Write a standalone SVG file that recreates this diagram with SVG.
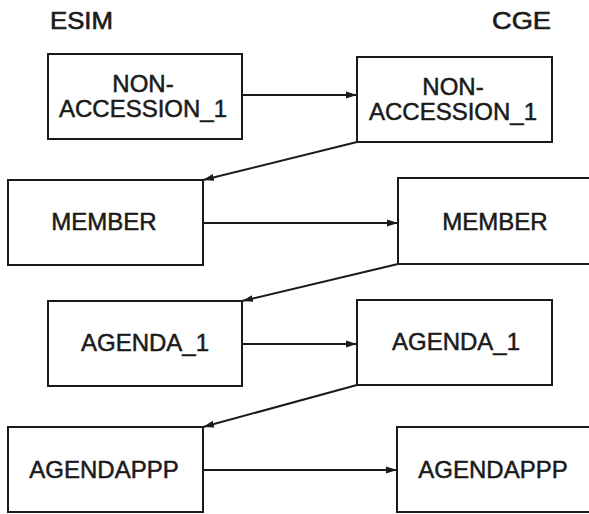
<svg xmlns="http://www.w3.org/2000/svg" width="589" height="514" viewBox="0 0 589 514">
<defs>
<marker id="ah" markerWidth="11" markerHeight="8" refX="11" refY="4" orient="auto" markerUnits="userSpaceOnUse">
<path d="M0,0.6 L11,4 L0,7.4 Z" fill="#1a1a1a"/>
</marker>
<style>
.box{fill:#fff;stroke:#1a1a1a;stroke-width:2}
.t{font-family:"Liberation Sans",Arial,sans-serif;font-size:24px;fill:#1a1a1a;stroke:#1a1a1a;stroke-width:0.5;text-anchor:middle}
.h{font-family:"Liberation Sans",Arial,sans-serif;font-size:23px;fill:#1a1a1a;stroke:#1a1a1a;stroke-width:0.6}
.c{fill:none;stroke:#1a1a1a;stroke-width:2;marker-end:url(#ah)}
</style>
</defs>
<rect width="589" height="514" fill="#fff"/>
<text class="h" x="50" y="29" textLength="63" lengthAdjust="spacingAndGlyphs">ESIM</text>
<text class="h" x="492" y="29" textLength="59" lengthAdjust="spacingAndGlyphs">CGE</text>
<g id="connectors">
<line class="c" x1="242" y1="95" x2="357" y2="95"/>
<line class="c" x1="357" y1="142" x2="203" y2="180"/>
<line class="c" x1="203" y1="223" x2="398" y2="223"/>
<line class="c" x1="398" y1="264" x2="242" y2="301"/>
<line class="c" x1="242" y1="344" x2="357" y2="344"/>
<line class="c" x1="357" y1="385" x2="203" y2="427"/>
<line class="c" x1="203" y1="470" x2="397" y2="470"/>
</g>
<g id="esim-nonaccession">
<rect class="box" x="48" y="54" width="194" height="85"/>
<text class="t" x="143" y="92">NON-</text>
<text class="t" x="143" y="117">ACCESSION_1</text>
</g>
<g id="cge-nonaccession">
<rect class="box" x="357" y="57" width="195" height="85"/>
<text class="t" x="453" y="95">NON-</text>
<text class="t" x="453" y="120">ACCESSION_1</text>
</g>
<g id="esim-member">
<rect class="box" x="8" y="180" width="195" height="85"/>
<text class="t" x="104" y="230">MEMBER</text>
</g>
<g id="cge-member">
<rect class="box" x="398" y="178" width="200" height="86"/>
<text class="t" x="495" y="230">MEMBER</text>
</g>
<g id="esim-agenda1">
<rect class="box" x="48" y="301" width="194" height="85"/>
<text class="t" x="145" y="351">AGENDA_1</text>
</g>
<g id="cge-agenda1">
<rect class="box" x="357" y="300" width="195" height="85"/>
<text class="t" x="456" y="350">AGENDA_1</text>
</g>
<g id="esim-agendappp">
<rect class="box" x="8" y="427" width="195" height="85"/>
<text class="t" x="104" y="478">AGENDAPPP</text>
</g>
<g id="cge-agendappp">
<rect class="box" x="397" y="427" width="200" height="85"/>
<text class="t" x="493" y="478">AGENDAPPP</text>
</g>
</svg>
